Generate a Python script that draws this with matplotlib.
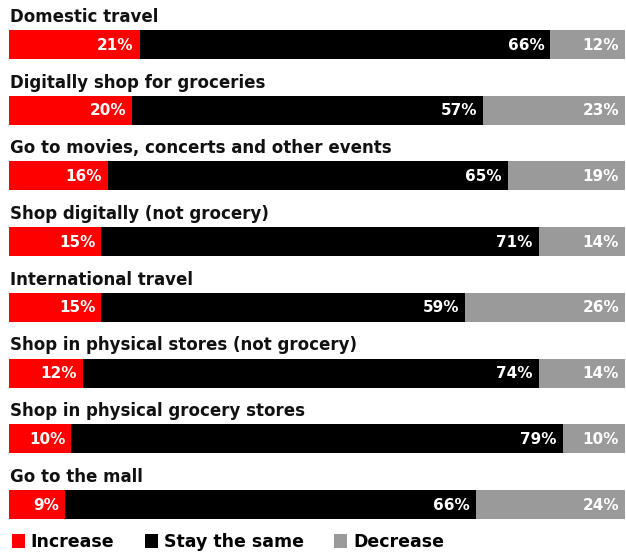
import matplotlib.pyplot as plt
import numpy as np
from matplotlib.patches import Patch

categories = ['Domestic travel', 'Digitally shop for groceries',
              'Go to movies, concerts and other events', 'Shop digitally (not grocery)',
              'International travel', 'Shop in physical stores (not grocery)',
              'Shop in physical grocery stores', 'Go to the mall']
increase = [21, 20, 16, 15, 15, 12, 10, 9]
same = [66, 57, 65, 71, 59, 74, 79, 66]
decrease = [12, 23, 19, 14, 26, 14, 10, 24]
series_names = ['Increase', 'Stay the same', 'Decrease']
colors = ['#ff0000', '#000000', '#9a9a9a']

font = 'DejaVu Sans'
W, H = 626, 552
fig = plt.figure(figsize=(W / 100, H / 100), dpi=100)
ax = fig.add_axes([9 / W, 0, (625 - 9) / W, 1])

step = 65.7  # px between rows
top = 44.5   # px of first bar centre
ax.set_ylim((H - top) / step, -top / step)
ax.set_xlim(0, 1)
ax.axis('off')

data = np.array([increase, same, decrease], dtype=float)
totals = data.sum(axis=0)
y = np.arange(len(categories))
bar_h = 29 / step

left = np.zeros(len(categories))
for vals, c in zip(data, colors):
    frac = vals / totals
    ax.barh(y, frac, left=left, height=bar_h, color=c, edgecolor='none')
    for yi, l, f, v in zip(y, left, frac, vals):
        ax.text(l + f - 6 / 616, yi + 0.01, f'{int(v)}%', ha='right', va='center',
                color='white', fontsize=11, fontweight='bold', family=font)
    left += frac

for yi, cat in zip(y, categories):
    ax.text(0.001, yi - 0.42, cat, ha='left', va='center', fontsize=12,
            fontweight='bold', family=font, color='#111111')

handles = [Patch(facecolor=c, edgecolor='none') for c in colors]
fig.legend(handles, series_names, loc='center left', bbox_to_anchor=(-4 / W, 1 - 542 / H),
           ncol=3, frameon=False, handlelength=0.75, handleheight=0.85, handletextpad=0.35,
           columnspacing=1.75, prop={'family': font, 'weight': 'bold', 'size': 12.5})

fig.savefig('out.png', dpi=100)
